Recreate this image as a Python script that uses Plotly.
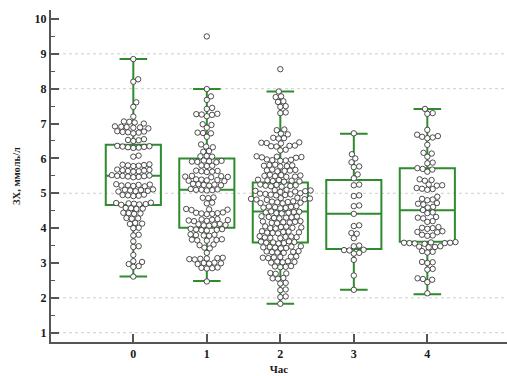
import math
import numpy as np
import plotly.graph_objects as go

# ---------------- data ----------------
hours = [0, 1, 2, 3, 4]
tick_labels = ["0", "1", "2", "3", "4"]
q1 = [4.66, 4.01, 3.59, 3.40, 3.61]
median = [5.50, 5.10, 4.48, 4.41, 4.51]
q3 = [6.39, 6.00, 5.31, 5.38, 5.72]
lower_whisker = [2.61, 2.48, 1.83, 2.23, 2.10]
upper_whisker = [8.85, 7.99, 7.92, 6.71, 7.42]
grid_levels = [1, 2, 5, 8, 9]

hour0 = [8.85, 8.27, 8.20, 7.61, 7.48, 7.20,
         7.06, 7.05, 7.03, 7.00,
         6.92, 6.91, 6.90, 6.89, 6.88, 6.86,
         6.78, 6.77, 6.76, 6.75, 6.74, 6.72,
         6.55, 6.53, 6.52, 6.50,
         6.36, 6.35, 6.34, 6.33, 6.32, 6.31, 6.30,
         6.08, 6.05,
         5.83, 5.82, 5.81, 5.80, 5.79, 5.78,
         5.68, 5.67, 5.66, 5.65, 5.64, 5.63, 5.62,
         5.52, 5.51, 5.50, 5.50, 5.49, 5.48, 5.47, 5.46,
         5.26, 5.25, 5.24, 5.23, 5.22, 5.21, 5.20,
         5.11, 5.10, 5.09, 5.08, 5.07, 5.06, 5.05,
         4.96, 4.95, 4.94, 4.93, 4.92,
         4.73, 4.72, 4.71, 4.70, 4.69, 4.68, 4.67,
         4.58, 4.57, 4.56, 4.55,
         4.44, 4.43, 4.42, 4.41,
         4.29, 4.28, 4.27,
         4.15, 4.13, 4.12,
         4.01, 4.00,
         3.81, 3.79,
         3.62,
         3.48, 3.46,
         3.23,
         3.05, 3.03, 2.97, 2.91, 2.89,
         2.61]

hour1 = [9.50, 7.99, 7.78, 7.68, 7.45, 7.42,
         7.28, 7.27, 7.26, 7.25, 7.21,
         6.98, 6.96, 6.88,
         6.74, 6.73, 6.72, 6.62, 6.40, 6.34, 6.32,
         6.21, 6.19, 6.07, 6.06, 6.05,
         5.94, 5.93, 5.92, 5.91, 5.90, 5.89,
         5.80, 5.79, 5.78,
         5.65, 5.64, 5.63, 5.62, 5.61,
         5.50, 5.49, 5.48, 5.47, 5.46,
         5.40, 5.39, 5.38, 5.37, 5.36, 5.35,
         5.27, 5.26, 5.25, 5.24, 5.23, 5.22,
         5.12, 5.11, 5.10, 5.10, 5.09, 5.08,
         4.88, 4.87, 4.86,
         4.73, 4.71,
         4.55, 4.54, 4.53, 4.52,
         4.45, 4.44, 4.43, 4.42, 4.41, 4.40,
         4.26, 4.25, 4.24, 4.23, 4.22, 4.21, 4.20,
         4.12, 4.11, 4.10, 4.09, 4.08, 4.07,
         3.98, 3.97, 3.96, 3.95, 3.94, 3.93,
         3.82, 3.81, 3.80, 3.79, 3.78,
         3.68, 3.67, 3.66, 3.65, 3.64,
         3.53, 3.51, 3.44, 3.42, 3.29,
         3.15, 3.14, 3.13, 3.12, 3.11, 3.10,
         3.01, 3.00, 2.99, 2.98, 2.97,
         2.87, 2.86, 2.85, 2.84,
         2.47]

hour2 = [8.56, 7.92, 7.78, 7.76, 7.64, 7.62, 7.50, 7.48, 7.32, 7.30,
         6.83, 6.81, 6.71, 6.69, 6.59, 6.58, 6.57,
         6.46, 6.45, 6.44, 6.43, 6.37, 6.36, 6.35, 6.34, 6.25, 6.23,
         6.06, 6.05, 6.04, 6.03, 6.02,
         5.97, 5.96, 5.95, 5.94, 5.93,
         5.82, 5.81, 5.80, 5.79, 5.78, 5.77,
         5.68, 5.67, 5.66, 5.65, 5.64, 5.63,
         5.53, 5.52, 5.51, 5.50, 5.49, 5.48, 5.47,
         5.39, 5.38, 5.37, 5.36, 5.35, 5.34, 5.33,
         5.25, 5.24, 5.23, 5.22, 5.21, 5.20, 5.19,
         5.10, 5.09, 5.08, 5.07, 5.06, 5.05, 5.04,
         5.00, 4.99, 4.98, 4.97, 4.96, 4.95, 4.94,
         4.87, 4.86, 4.85, 4.84, 4.83, 4.82, 4.81,
         4.77, 4.76, 4.75, 4.74, 4.73, 4.72, 4.71,
         4.63, 4.62, 4.61, 4.60, 4.59, 4.58, 4.57,
         4.48, 4.47, 4.46, 4.45, 4.44, 4.43, 4.42,
         4.34, 4.33, 4.32, 4.31, 4.30, 4.29, 4.28,
         4.20, 4.19, 4.18, 4.17, 4.16, 4.15, 4.14,
         4.05, 4.04, 4.03, 4.02, 4.01, 4.00, 3.99,
         3.91, 3.90, 3.89, 3.88, 3.87, 3.86, 3.85,
         3.77, 3.76, 3.75, 3.74, 3.73, 3.72, 3.71,
         3.62, 3.61, 3.60, 3.59, 3.58, 3.57, 3.56,
         3.48, 3.47, 3.46, 3.45, 3.44, 3.43, 3.42,
         3.34, 3.33, 3.32, 3.31, 3.30, 3.29,
         3.19, 3.18, 3.17, 3.16, 3.15, 3.14,
         3.05, 3.04, 3.03, 3.02, 3.01,
         2.91, 2.90, 2.89, 2.88,
         2.71, 2.70, 2.69, 2.57, 2.56, 2.55,
         2.43, 2.41, 2.24, 2.22, 2.04, 2.02,
         1.83]

hour3 = [6.72, 6.12, 6.00, 5.89, 5.77, 5.75, 5.54, 5.43, 5.25, 5.23,
         4.94, 4.92, 4.65, 4.63, 4.41, 4.08, 4.06, 3.86, 3.84, 3.71,
         3.50, 3.48, 3.38, 3.37, 3.36, 3.29, 3.27, 3.09, 2.64, 2.23]

hour4 = [7.42, 7.30, 7.28, 6.82,
         6.68, 6.64, 6.62, 6.60, 6.58, 6.39,
         6.16, 6.14, 6.05, 5.88, 5.86,
         5.72, 5.70, 5.68, 5.62,
         5.40, 5.38, 5.36, 5.25, 5.23, 5.22,
         5.15, 5.13, 5.12, 5.10, 4.90,
         4.84, 4.82, 4.80, 4.72, 4.70, 4.68,
         4.61, 4.59, 4.52, 4.45, 4.43,
         4.32, 4.30, 4.28, 4.20, 4.18,
         4.03, 4.01, 4.00, 3.98, 3.91, 3.89, 3.88,
         3.81, 3.79, 3.78,
         3.60, 3.59, 3.58, 3.58, 3.57, 3.57, 3.56, 3.55,
         3.48, 3.47, 3.46, 3.45, 3.34, 3.32, 3.30,
         3.03, 3.02, 3.00, 2.83, 2.81,
         2.56, 2.54, 2.52, 2.45, 2.13]

groups = [hour0, hour1, hour2, hour3, hour4]

# ---------------- layout geometry ----------------
W, H = 507, 376
ML, MR, MT, MB = 51, 0, 10, 34
x_range = [-1.12, 5.084]
y_range = [0.733, 10.258]
ppx = (W - ML - MR) / (x_range[1] - x_range[0])
ppy = (H - MT - MB) / (y_range[1] - y_range[0])
DOT = 5.4  # spacing (px) between dot centres


def swarm_offsets(values, d):
    ys = np.asarray(values, dtype=float) * ppy
    order = np.argsort(ys)
    xs = np.zeros(len(ys))
    placed = []
    for i in order:
        y = ys[i]
        near = [(px, py) for px, py in placed if abs(py - y) < d]
        cands = [0.0]
        for px, py in near:
            dx = math.sqrt(max(d * d - (py - y) ** 2, 0.0))
            cands += [px + dx, px - dx]
        cands.sort(key=abs)
        for c in cands:
            if all((c - px) ** 2 + (y - py) ** 2 >= d * d - 1e-6 for px, py in near):
                xs[i] = c
                break
        placed.append((xs[i], y))
    return xs / ppx


green = "#2e8b2e"
axis_col = "#555555"
serif = "Liberation Serif"

fig = go.Figure()

for lvl in grid_levels:
    fig.add_shape(type="line", xref="paper", x0=0, x1=1, yref="y", y0=lvl, y1=lvl,
                  line=dict(color="#cfcfcf", width=1, dash="dot"), layer="below")

fig.add_trace(go.Box(
    x=hours, q1=q1, median=median, q3=q3,
    lowerfence=lower_whisker, upperfence=upper_whisker,
    width=0.75, whiskerwidth=0.5, boxpoints=False,
    line=dict(color=green, width=2), fillcolor="rgba(0,0,0,0)",
    showlegend=False, hoverinfo="skip"))

for h, vals in zip(hours, groups):
    offs = swarm_offsets(vals, DOT)
    fig.add_trace(go.Scatter(
        x=[h + o for o in offs], y=vals, mode="markers",
        marker=dict(size=5.4, color="white", line=dict(color="#3a3a3a", width=0.9)),
        showlegend=False, hoverinfo="y"))

fig.update_layout(
    width=W, height=H,
    margin=dict(l=ML, r=MR, t=MT, b=MB, autoexpand=False),
    plot_bgcolor="white", paper_bgcolor="white",
    showlegend=False,
)

fig.update_xaxes(
    range=x_range, tickmode="array", tickvals=hours,
    ticktext=["<b>" + t + "</b>" for t in tick_labels],
    ticks="inside", ticklen=8, tickwidth=1.5, tickcolor=axis_col,
    showline=True, linecolor=axis_col, linewidth=2, showgrid=False, zeroline=False,
    tickfont=dict(family=serif, size=12, color="#1a1a1a"),
    title=dict(text="<b>Час</b>", font=dict(family=serif, size=11, color="#1a1a1a"),
               standoff=5),
    automargin=False,
)
fig.update_yaxes(
    range=y_range, tickmode="linear", tick0=0, dtick=1,
    ticks="inside", ticklen=8, tickwidth=1.5, tickcolor=axis_col,
    minor=dict(dtick=0.5, tick0=0, ticks="inside", ticklen=4, tickwidth=1.2,
               tickcolor=axis_col, showgrid=False),
    showline=True, linecolor=axis_col, linewidth=2, showgrid=False, zeroline=False,
    tickfont=dict(family=serif, size=12, color="#1a1a1a", weight="bold"),
    title=dict(text="<b>ЗХ, ммоль/л</b>", font=dict(family=serif, size=10.5, color="#1a1a1a"),
               standoff=12),
    automargin=False,
)

fig.write_html("out.html")
